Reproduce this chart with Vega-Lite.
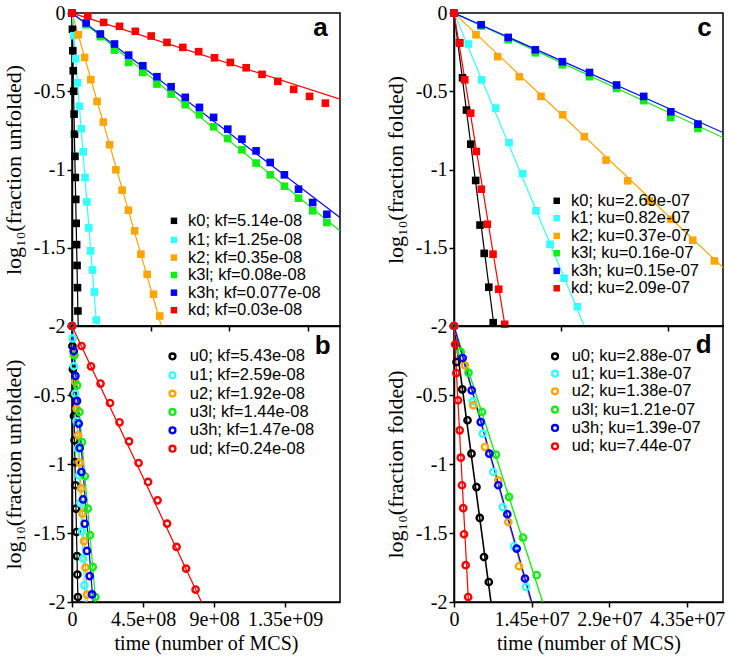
{
 "$schema": "https://vega.github.io/schema/vega-lite/v6.json",
 "background": "white",
 "padding": {"left": 1, "top": 2, "right": 4, "bottom": 4},
 "config": {
  "view": {"stroke": "black", "strokeWidth": 1.5},
  "axis": {"domainColor": "black", "domainWidth": 1.5, "tickColor": "black", "tickWidth": 1.5, "tickSize": 5, "labelFont": "Liberation Serif", "labelFontSize": 20, "labelColor": "black", "titleFont": "Liberation Serif", "titleFontSize": 20, "titleFontWeight": "normal", "titleColor": "black", "grid": false, "labelPadding": 2, "labelOverlap": false, "labelFlush": false}
 },
 "datasets": {
  "aP": [
   {"s":"k0","x":0,"y":0},{"s":"k0","x":2.41e6,"y":-0.104},{"s":"k0","x":4.82e6,"y":-0.241},{"s":"k0","x":7.23e6,"y":-0.369},{"s":"k0","x":9.64e6,"y":-0.5},{"s":"k0","x":1.205e7,"y":-0.646},{"s":"k0","x":1.446e7,"y":-0.774},{"s":"k0","x":1.687e7,"y":-0.916},{"s":"k0","x":1.928e7,"y":-1.051},{"s":"k0","x":2.169e7,"y":-1.191},{"s":"k0","x":2.41e7,"y":-1.344},{"s":"k0","x":2.651e7,"y":-1.48},{"s":"k0","x":2.892e7,"y":-1.613},{"s":"k0","x":3.133e7,"y":-1.755},{"s":"k0","x":3.374e7,"y":-1.904},
   {"s":"k1","x":0,"y":0},{"s":"k1","x":1.065e7,"y":-0.145},{"s":"k1","x":2.13e7,"y":-0.292},{"s":"k1","x":3.195e7,"y":-0.446},{"s":"k1","x":4.26e7,"y":-0.596},{"s":"k1","x":5.325e7,"y":-0.74},{"s":"k1","x":6.39e7,"y":-0.887},{"s":"k1","x":7.455e7,"y":-1.051},{"s":"k1","x":8.52e7,"y":-1.207},{"s":"k1","x":9.585e7,"y":-1.373},{"s":"k1","x":1.065e8,"y":-1.52},{"s":"k1","x":1.1715e8,"y":-1.642},{"s":"k1","x":1.278e8,"y":-1.783},{"s":"k1","x":1.3845e8,"y":-1.962},
   {"s":"k2","x":0,"y":0},{"s":"k2","x":3.589e7,"y":-0.139},{"s":"k2","x":7.178e7,"y":-0.284},{"s":"k2","x":1.0767e8,"y":-0.426},{"s":"k2","x":1.4356e8,"y":-0.565},{"s":"k2","x":1.7945e8,"y":-0.697},{"s":"k2","x":2.1534e8,"y":-0.842},{"s":"k2","x":2.5123e8,"y":-1.002},{"s":"k2","x":2.8712e8,"y":-1.132},{"s":"k2","x":3.2301e8,"y":-1.26},{"s":"k2","x":3.589e8,"y":-1.392},{"s":"k2","x":3.9479e8,"y":-1.541},{"s":"k2","x":4.3068e8,"y":-1.67},{"s":"k2","x":4.6657e8,"y":-1.797},{"s":"k2","x":5.0246e8,"y":-1.936},
   {"s":"k3l","x":0,"y":0},{"s":"k3l","x":8.11e7,"y":-0.075},{"s":"k3l","x":1.622e8,"y":-0.151},{"s":"k3l","x":2.433e8,"y":-0.237},{"s":"k3l","x":3.244e8,"y":-0.316},{"s":"k3l","x":4.055e8,"y":-0.38},{"s":"k3l","x":4.866e8,"y":-0.454},{"s":"k3l","x":5.677e8,"y":-0.518},{"s":"k3l","x":6.488e8,"y":-0.586},{"s":"k3l","x":7.299e8,"y":-0.65},{"s":"k3l","x":8.11e8,"y":-0.727},{"s":"k3l","x":8.921e8,"y":-0.802},{"s":"k3l","x":9.732e8,"y":-0.874},{"s":"k3l","x":1.0543e9,"y":-0.959},{"s":"k3l","x":1.1354e9,"y":-1.034},{"s":"k3l","x":1.2165e9,"y":-1.107},{"s":"k3l","x":1.2976e9,"y":-1.183},{"s":"k3l","x":1.3787e9,"y":-1.264},{"s":"k3l","x":1.4598e9,"y":-1.339},
   {"s":"k3h","x":0,"y":0},{"s":"k3h","x":8.11e7,"y":-0.064},{"s":"k3h","x":1.622e8,"y":-0.134},{"s":"k3h","x":2.433e8,"y":-0.198},{"s":"k3h","x":3.244e8,"y":-0.269},{"s":"k3h","x":4.055e8,"y":-0.337},{"s":"k3h","x":4.866e8,"y":-0.407},{"s":"k3h","x":5.677e8,"y":-0.471},{"s":"k3h","x":6.488e8,"y":-0.539},{"s":"k3h","x":7.299e8,"y":-0.603},{"s":"k3h","x":8.11e8,"y":-0.667},{"s":"k3h","x":8.921e8,"y":-0.742},{"s":"k3h","x":9.732e8,"y":-0.806},{"s":"k3h","x":1.0543e9,"y":-0.881},{"s":"k3h","x":1.1354e9,"y":-0.955},{"s":"k3h","x":1.2165e9,"y":-1.034},{"s":"k3h","x":1.2976e9,"y":-1.126},{"s":"k3h","x":1.3787e9,"y":-1.211},{"s":"k3h","x":1.4598e9,"y":-1.286},
   {"s":"kd","x":0,"y":0},{"s":"kd","x":9.07e7,"y":-0.021},{"s":"kd","x":1.814e8,"y":-0.06},{"s":"kd","x":2.721e8,"y":-0.085},{"s":"kd","x":3.628e8,"y":-0.117},{"s":"kd","x":4.535e8,"y":-0.147},{"s":"kd","x":5.442e8,"y":-0.188},{"s":"kd","x":6.349e8,"y":-0.22},{"s":"kd","x":7.256e8,"y":-0.247},{"s":"kd","x":8.163e8,"y":-0.286},{"s":"kd","x":9.07e8,"y":-0.316},{"s":"kd","x":9.977e8,"y":-0.35},{"s":"kd","x":1.0884e9,"y":-0.392},{"s":"kd","x":1.1791e9,"y":-0.437},{"s":"kd","x":1.2698e9,"y":-0.488},{"s":"kd","x":1.3605e9,"y":-0.533},{"s":"kd","x":1.4512e9,"y":-0.576}
  ],
  "aL": [
   {"g":"k0","x":0,"y":0},{"g":"k0","x":3.55e7,"y":-2},
   {"g":"k1","x":0,"y":0},{"g":"k1","x":1.415e8,"y":-2},
   {"g":"k2","x":0,"y":0},{"g":"k2","x":5.116e8,"y":-2},
   {"g":"k3l","x":0,"y":0},{"g":"k3l","x":1.535e9,"y":-1.392},
   {"g":"k3h","x":0,"y":0},{"g":"k3h","x":1.535e9,"y":-1.307},
   {"g":"kd","x":0,"y":0},{"g":"kd","x":1.535e9,"y":-0.55}
  ],
  "aT": [{"t":"a","x":1.465e9,"y":-0.145}],
  "aK": [
   {"s":"k0","lab":"k0; kf=5.14e-08","x":5.84e8,"tx":6.645e8,"y":-1.328},
   {"s":"k1","lab":"k1; kf=1.25e-08","x":5.84e8,"tx":6.645e8,"y":-1.45},
   {"s":"k2","lab":"k2; kf=0.35e-08","x":5.84e8,"tx":6.645e8,"y":-1.563},
   {"s":"k3l","lab":"k3l; kf=0.08e-08","x":5.84e8,"tx":6.645e8,"y":-1.674},
   {"s":"k3h","lab":"k3h; kf=0.077e-08","x":5.84e8,"tx":6.645e8,"y":-1.787},
   {"s":"kd","lab":"kd; kf=0.03e-08","x":5.84e8,"tx":6.645e8,"y":-1.899}
  ],
  "bP": [
   {"s":"u0","x":0,"y":0},{"s":"u0","x":2.5e6,"y":-0.145},{"s":"u0","x":5.7e6,"y":-0.314},{"s":"u0","x":9.5e6,"y":-0.495},{"s":"u0","x":1.27e7,"y":-0.652},{"s":"u0","x":1.58e7,"y":-0.828},{"s":"u0","x":1.9e7,"y":-0.986},{"s":"u0","x":2.22e7,"y":-1.154},{"s":"u0","x":2.54e7,"y":-1.323},{"s":"u0","x":2.85e7,"y":-1.493},{"s":"u0","x":3.17e7,"y":-1.667},{"s":"u0","x":3.42e7,"y":-1.801},{"s":"u0","x":3.74e7,"y":-1.964},
   {"s":"u1","x":0,"y":0},{"s":"u1","x":3.8e6,"y":-0.09},{"s":"u1","x":1.21e7,"y":-0.29},{"s":"u1","x":2.05e7,"y":-0.49},{"s":"u1","x":2.88e7,"y":-0.689},{"s":"u1","x":3.71e7,"y":-0.888},{"s":"u1","x":4.53e7,"y":-1.082},{"s":"u1","x":5.37e7,"y":-1.283},{"s":"u1","x":6.22e7,"y":-1.486},{"s":"u1","x":7.05e7,"y":-1.686},{"s":"u1","x":7.86e7,"y":-1.879},
   {"s":"u2","x":0,"y":0},{"s":"u2","x":1.01e7,"y":-0.207},{"s":"u2","x":1.97e7,"y":-0.403},{"s":"u2","x":2.92e7,"y":-0.599},{"s":"u2","x":3.87e7,"y":-0.792},{"s":"u2","x":4.83e7,"y":-0.99},{"s":"u2","x":5.74e7,"y":-1.177},{"s":"u2","x":6.64e7,"y":-1.36},{"s":"u2","x":7.61e7,"y":-1.56},{"s":"u2","x":8.54e7,"y":-1.75},{"s":"u2","x":9.5e7,"y":-1.946},
   {"s":"u3l","x":0,"y":0},{"s":"u3l","x":1.58e7,"y":-0.212},{"s":"u3l","x":3.23e7,"y":-0.43},{"s":"u3l","x":4.69e7,"y":-0.623},{"s":"u3l","x":6.34e7,"y":-0.841},{"s":"u3l","x":8.18e7,"y":-1.089},{"s":"u3l","x":9.95e7,"y":-1.323},{"s":"u3l","x":1.141e8,"y":-1.516},{"s":"u3l","x":1.312e8,"y":-1.746},{"s":"u3l","x":1.477e8,"y":-1.964},
   {"s":"u3h","x":0,"y":0},{"s":"u3h","x":1.08e7,"y":-0.181},{"s":"u3h","x":2.15e7,"y":-0.362},{"s":"u3h","x":3.17e7,"y":-0.543},{"s":"u3h","x":4.25e7,"y":-0.707},{"s":"u3h","x":4.88e7,"y":-0.884},{"s":"u3h","x":5.96e7,"y":-1.058},{"s":"u3h","x":6.97e7,"y":-1.257},{"s":"u3h","x":8.05e7,"y":-1.433},{"s":"u3h","x":9.51e7,"y":-1.63},{"s":"u3h","x":1.122e8,"y":-1.812},{"s":"u3h","x":1.268e8,"y":-1.945},
   {"s":"ud","x":0,"y":0},{"s":"ud","x":6.02e7,"y":-0.145},{"s":"ud","x":1.204e8,"y":-0.292},{"s":"ud","x":1.806e8,"y":-0.417},{"s":"ud","x":2.408e8,"y":-0.558},{"s":"ud","x":3.01e8,"y":-0.698},{"s":"ud","x":3.612e8,"y":-0.836},{"s":"ud","x":4.214e8,"y":-0.993},{"s":"ud","x":4.816e8,"y":-1.13},{"s":"ud","x":5.418e8,"y":-1.263},{"s":"ud","x":6.02e8,"y":-1.432},{"s":"ud","x":6.622e8,"y":-1.601},{"s":"ud","x":7.224e8,"y":-1.758},{"s":"ud","x":7.826e8,"y":-1.91}
  ],
  "bL": [
   {"g":"u0","x":0,"y":0},{"g":"u0","x":3.8e7,"y":-2},
   {"g":"u1","x":0,"y":0},{"g":"u1","x":8.37e7,"y":-2},
   {"g":"u2","x":0,"y":0},{"g":"u2","x":9.76e7,"y":-2},
   {"g":"u3l","x":0,"y":0},{"g":"u3l","x":1.502e8,"y":-2},
   {"g":"u3h","x":0,"y":0},{"g":"u3h","x":1.33e8,"y":-2},
   {"g":"ud","x":0,"y":0},{"g":"ud","x":8.2e8,"y":-2}
  ],
  "bT": [{"t":"b","x":1.638e9,"y":-0.2}],
  "bK": [
   {"s":"u0","lab":"u0; kf=5.43e-08","x":6.363e8,"tx":7.46e8,"y":-0.22},
   {"s":"u1","lab":"u1; kf=2.59e-08","x":6.363e8,"tx":7.46e8,"y":-0.357},
   {"s":"u2","lab":"u2; kf=1.92e-08","x":6.363e8,"tx":7.46e8,"y":-0.49},
   {"s":"u3l","lab":"u3l; kf=1.44e-08","x":6.363e8,"tx":7.46e8,"y":-0.623},
   {"s":"u3h","lab":"u3h; kf=1.47e-08","x":6.363e8,"tx":7.46e8,"y":-0.756},
   {"s":"ud","lab":"ud; kf=0.24e-08","x":6.363e8,"tx":7.46e8,"y":-0.889}
  ],
  "cP": [
   {"s":"k0","x":0,"y":0},{"s":"k0","x":7.44e5,"y":-0.19},{"s":"k0","x":1.15e6,"y":-0.414},{"s":"k0","x":1.69e6,"y":-0.62},{"s":"k0","x":2.27e6,"y":-0.838},{"s":"k0","x":2.935e6,"y":-1.07},{"s":"k0","x":3.517e6,"y":-1.355},{"s":"k0","x":4.085e6,"y":-1.536},{"s":"k0","x":4.707e6,"y":-1.752},{"s":"k0","x":5.302e6,"y":-1.979},
   {"s":"k1","x":0,"y":0},{"s":"k1","x":1.934e6,"y":-0.198},{"s":"k1","x":3.747e6,"y":-0.427},{"s":"k1","x":5.64e6,"y":-0.608},{"s":"k1","x":7.44e6,"y":-0.828},{"s":"k1","x":9.29e6,"y":-1.026},{"s":"k1","x":1.109e7,"y":-1.264},{"s":"k1","x":1.2985e7,"y":-1.478},{"s":"k1","x":1.488e7,"y":-1.695},{"s":"k1","x":1.668e7,"y":-1.877},
   {"s":"k2","x":0,"y":0},{"s":"k2","x":2.976e6,"y":-0.139},{"s":"k2","x":5.911e6,"y":-0.279},{"s":"k2","x":8.833e6,"y":-0.407},{"s":"k2","x":1.1768e7,"y":-0.533},{"s":"k2","x":1.4703e7,"y":-0.65},{"s":"k2","x":1.7624e7,"y":-0.79},{"s":"k2","x":2.056e7,"y":-0.94},{"s":"k2","x":2.3495e7,"y":-1.072},{"s":"k2","x":2.6416e7,"y":-1.201},{"s":"k2","x":2.9351e7,"y":-1.318},{"s":"k2","x":3.2287e7,"y":-1.452},{"s":"k2","x":3.5208e7,"y":-1.584},
   {"s":"k3l","x":0,"y":0},{"s":"k3l","x":3.665e6,"y":-0.083},{"s":"k3l","x":7.33e6,"y":-0.171},{"s":"k3l","x":1.0995e7,"y":-0.254},{"s":"k3l","x":1.466e7,"y":-0.331},{"s":"k3l","x":1.8325e7,"y":-0.407},{"s":"k3l","x":2.199e7,"y":-0.482},{"s":"k3l","x":2.5655e7,"y":-0.56},{"s":"k3l","x":2.932e7,"y":-0.668},{"s":"k3l","x":3.2985e7,"y":-0.738},
   {"s":"k3h","x":0,"y":0},{"s":"k3h","x":3.665e6,"y":-0.075},{"s":"k3h","x":7.33e6,"y":-0.156},{"s":"k3h","x":1.0995e7,"y":-0.235},{"s":"k3h","x":1.466e7,"y":-0.311},{"s":"k3h","x":1.8325e7,"y":-0.38},{"s":"k3h","x":2.199e7,"y":-0.46},{"s":"k3h","x":2.5655e7,"y":-0.533},{"s":"k3h","x":2.932e7,"y":-0.631},{"s":"k3h","x":3.2985e7,"y":-0.71},
   {"s":"kd","x":0,"y":0},{"s":"kd","x":7.71e5,"y":-0.192},{"s":"kd","x":1.447e6,"y":-0.427},{"s":"kd","x":2.259e6,"y":-0.64},{"s":"kd","x":3.016e6,"y":-0.885},{"s":"kd","x":3.693e6,"y":-1.126},{"s":"kd","x":4.504e6,"y":-1.35},{"s":"kd","x":5.275e6,"y":-1.541},{"s":"kd","x":6.046e6,"y":-1.765},{"s":"kd","x":6.858e6,"y":-1.989}
  ],
  "cL": [
   {"g":"k0","x":0,"y":0},{"g":"k0","x":5.41e6,"y":-2},
   {"g":"k1","x":0,"y":0},{"g":"k1","x":1.762e7,"y":-2},
   {"g":"k2","x":0,"y":0},{"g":"k2","x":3.638e7,"y":-1.627},
   {"g":"k3l","x":0,"y":0},{"g":"k3l","x":3.638e7,"y":-0.796},
   {"g":"k3h","x":0,"y":0},{"g":"k3h","x":3.638e7,"y":-0.764},
   {"g":"kd","x":0,"y":0},{"g":"kd","x":6.9e6,"y":-2}
  ],
  "cT": [{"t":"c","x":3.486e7,"y":-0.145}],
  "cK": [
   {"s":"k0","lab":"k0; ku=2.69e-07","x":1.389e7,"tx":1.5825e7,"y":-1.2},
   {"s":"k1","lab":"k1; ku=0.82e-07","x":1.389e7,"tx":1.5825e7,"y":-1.311},
   {"s":"k2","lab":"k2; ku=0.37e-07","x":1.389e7,"tx":1.5825e7,"y":-1.424},
   {"s":"k3l","lab":"k3l; ku=0.16e-07","x":1.389e7,"tx":1.5825e7,"y":-1.535},
   {"s":"k3h","lab":"k3h; ku=0.15e-07","x":1.389e7,"tx":1.5825e7,"y":-1.648},
   {"s":"kd","lab":"kd; ku=2.09e-07","x":1.389e7,"tx":1.5825e7,"y":-1.759}
  ],
  "dP": [
   {"s":"u0","x":0,"y":0},{"s":"u0","x":4.67e5,"y":-0.261},{"s":"u0","x":1.549e6,"y":-0.459},{"s":"u0","x":2.519e6,"y":-0.683},{"s":"u0","x":3.266e6,"y":-0.925},{"s":"u0","x":4.199e6,"y":-1.167},{"s":"u0","x":4.814e6,"y":-1.391},{"s":"u0","x":5.598e6,"y":-1.674},{"s":"u0","x":6.494e6,"y":-1.855},
   {"s":"u1","x":0,"y":0},{"s":"u1","x":3.49e6,"y":-0.546},{"s":"u1","x":5.355e6,"y":-0.78},{"s":"u1","x":7.333e6,"y":-1.058},{"s":"u1","x":9.087e6,"y":-1.312},{"s":"u1","x":1.1196e7,"y":-1.596},{"s":"u1","x":1.3435e7,"y":-1.891},
   {"s":"u2","x":0,"y":0},{"s":"u2","x":2.053e6,"y":-0.285},{"s":"u2","x":3.601e6,"y":-0.574},{"s":"u2","x":5.785e6,"y":-0.877},{"s":"u2","x":8.266e6,"y":-1.118},{"s":"u2","x":1.0132e7,"y":-1.42},{"s":"u2","x":1.2129e7,"y":-1.741},
   {"s":"u3l","x":0,"y":0},{"s":"u3l","x":1.25e6,"y":-0.188},{"s":"u3l","x":2.706e6,"y":-0.338},{"s":"u3l","x":5.225e6,"y":-0.623},{"s":"u3l","x":7.837e6,"y":-0.932},{"s":"u3l","x":1.0263e7,"y":-1.239},{"s":"u3l","x":1.2875e7,"y":-1.533},{"s":"u3l","x":1.5432e7,"y":-1.806},
   {"s":"u3h","x":0,"y":0},{"s":"u3h","x":1.623e6,"y":-0.232},{"s":"u3h","x":3.303e6,"y":-0.466},{"s":"u3h","x":4.982e6,"y":-0.696},{"s":"u3h","x":6.587e6,"y":-0.925},{"s":"u3h","x":8.266e6,"y":-1.154},{"s":"u3h","x":9.946e6,"y":-1.364},{"s":"u3h","x":1.17e7,"y":-1.613},{"s":"u3h","x":1.3249e7,"y":-1.83},
   {"s":"ud","x":0,"y":0},{"s":"ud","x":2.2e5,"y":-0.133},{"s":"ud","x":4.3e5,"y":-0.341},{"s":"ud","x":7.5e5,"y":-0.538},{"s":"ud","x":1.06e6,"y":-0.756},{"s":"ud","x":1.27e6,"y":-0.954},{"s":"ud","x":1.49e6,"y":-1.154},{"s":"ud","x":1.72e6,"y":-1.32},{"s":"ud","x":1.87e6,"y":-1.509},{"s":"ud","x":2.18e6,"y":-1.733},{"s":"ud","x":2.65e6,"y":-1.964}
  ],
  "dL": [
   {"g":"u0","x":0,"y":0},{"g":"u0","x":6.9e6,"y":-2},
   {"g":"u1","x":0,"y":0},{"g":"u1","x":1.437e7,"y":-2},
   {"g":"u2","x":0,"y":0},{"g":"u2","x":1.437e7,"y":-2},
   {"g":"u3l","x":0,"y":0},{"g":"u3l","x":1.655e7,"y":-2},
   {"g":"u3h","x":0,"y":0},{"g":"u3h","x":1.45e7,"y":-2},
   {"g":"ud","x":0,"y":0},{"g":"ud","x":2.7e6,"y":-2}
  ],
  "dT": [{"t":"d","x":4.809e7,"y":-0.193}],
  "dK": [
   {"s":"u0","lab":"u0; ku=2.88e-07","x":1.885e7,"tx":2.196e7,"y":-0.22},
   {"s":"u1","lab":"u1; ku=1.38e-07","x":1.885e7,"tx":2.196e7,"y":-0.345},
   {"s":"u2","lab":"u2; ku=1.38e-07","x":1.885e7,"tx":2.196e7,"y":-0.473},
   {"s":"u3l","lab":"u3l; ku=1.21e-07","x":1.885e7,"tx":2.196e7,"y":-0.606},
   {"s":"u3h","lab":"u3h; ku=1.39e-07","x":1.885e7,"tx":2.196e7,"y":-0.739},
   {"s":"ud","lab":"ud; ku=7.44e-07","x":1.885e7,"tx":2.196e7,"y":-0.872}
  ]
 },
 "columns": 2,
 "spacing": {"row": 0, "column": 114},
 "bounds": "flush",
 "align": "each",
 "resolve": {"scale": {"color": "independent", "stroke": "independent", "strokeWidth": "independent"}},
 "concat": [
  {
   "width": 268, "height": 313,
   "encoding": {
    "x": {"field": "x", "type": "quantitative", "scale": {"domain": [0, 1.535e9], "nice": false, "zero": false}, "axis": {"values": [0, 450000000, 900000000, 1350000000], "labels": false, "title": null}},
    "y": {"field": "y", "type": "quantitative", "scale": {"domain": [-2, 0], "nice": false}, "axis": {"values": [0, -0.5, -1, -1.5, -2], "labelExpr": "datum.value == 0 ? '0' : '-' + format(-datum.value, '~g')", "title": "log₁₀(fraction unfolded)", "titleFontSize": 22, "titlePadding": 8}}
   },
   "layer": [
    {"data": {"name": "aL"}, "mark": {"type": "line", "clip": true},
     "encoding": {"stroke": {"field": "g", "type": "nominal", "scale": {"domain": ["k0","k1","k2","k3l","k3h","kd"], "range": ["#000000","#33FFFF","#FFA500","#11EE11","#0000FF","#FF0000"]}, "legend": null},
      "strokeWidth": {"field": "g", "type": "nominal", "scale": {"domain": ["k0","k1","k2","k3l","k3h","kd"], "range": [1.2,1.2,2,2,1.3,1.2]}, "legend": null}}},
    {"data": {"name": "aP"}, "mark": {"type": "point", "shape": "square", "filled": true, "size": 58, "opacity": 1},
     "encoding": {"color": {"field": "s", "type": "nominal", "scale": {"domain": ["k0","k1","k2","k3l","k3h","kd"], "range": ["#000000","#33FFFF","#FFA500","#11EE11","#0000FF","#FF0000"]}, "legend": null}}},
    {"data": {"name": "aK"}, "mark": {"type": "point", "shape": "square", "filled": true, "size": 42, "opacity": 1},
     "encoding": {"color": {"field": "s", "type": "nominal", "legend": null}}},
    {"data": {"name": "aK"}, "mark": {"type": "text", "font": "Liberation Sans", "fontSize": 16.5, "align": "left", "baseline": "middle", "color": "black"},
     "encoding": {"x": {"field": "tx", "type": "quantitative"}, "text": {"field": "lab"}}},
    {"data": {"name": "aT"}, "mark": {"type": "text", "font": "Liberation Sans", "fontWeight": "bold", "fontSize": 26, "align": "right", "baseline": "alphabetic", "color": "black"},
     "encoding": {"text": {"field": "t"}}}
   ]
  },
  {
   "width": 269, "height": 313,
   "encoding": {
    "x": {"field": "x", "type": "quantitative", "scale": {"domain": [0, 3.638e7], "nice": false, "zero": false}, "axis": {"values": [0, 14500000, 29000000], "labels": false, "title": null}},
    "y": {"field": "y", "type": "quantitative", "scale": {"domain": [-2, 0], "nice": false}, "axis": {"values": [0, -0.5, -1, -1.5, -2], "labelExpr": "datum.value == 0 ? '0' : '-' + format(-datum.value, '~g')", "title": "log₁₀(fraction folded)", "titleFontSize": 22, "titlePadding": 8}}
   },
   "layer": [
    {"data": {"name": "cL"}, "mark": {"type": "line", "clip": true},
     "encoding": {"stroke": {"field": "g", "type": "nominal", "scale": {"domain": ["k0","k1","k2","k3l","k3h","kd"], "range": ["#000000","#33FFFF","#FFA500","#11EE11","#0000FF","#FF0000"]}, "legend": null},
      "strokeWidth": {"field": "g", "type": "nominal", "scale": {"domain": ["k0","k1","k2","k3l","k3h","kd"], "range": [1.2,1.2,2,2.2,1.2,1.2]}, "legend": null}}},
    {"data": {"name": "cP"}, "mark": {"type": "point", "shape": "square", "filled": true, "size": 58, "opacity": 1},
     "encoding": {"color": {"field": "s", "type": "nominal", "scale": {"domain": ["k0","k1","k2","k3l","k3h","kd"], "range": ["#000000","#33FFFF","#FFA500","#11EE11","#0000FF","#FF0000"]}, "legend": null}}},
    {"data": {"name": "cK"}, "mark": {"type": "point", "shape": "square", "filled": true, "size": 42, "opacity": 1},
     "encoding": {"color": {"field": "s", "type": "nominal", "legend": null}}},
    {"data": {"name": "cK"}, "mark": {"type": "text", "font": "Liberation Sans", "fontSize": 16.5, "align": "left", "baseline": "middle", "color": "black"},
     "encoding": {"x": {"field": "tx", "type": "quantitative"}, "text": {"field": "lab"}}},
    {"data": {"name": "cT"}, "mark": {"type": "text", "font": "Liberation Sans", "fontWeight": "bold", "fontSize": 26, "align": "right", "baseline": "alphabetic", "color": "black"},
     "encoding": {"text": {"field": "t"}}}
   ]
  },
  {
   "width": 268, "height": 276,
   "encoding": {
    "x": {"field": "x", "type": "quantitative", "scale": {"domain": [0, 1.697e9], "nice": false, "zero": false}, "axis": {"values": [0, 450000000, 900000000, 1350000000], "labelExpr": "datum.value == 0 ? '0' : datum.value == 450000000 ? '4.5e+08' : datum.value == 900000000 ? '9e+08' : '1.35e+09'", "title": "time (number of MCS)", "titlePadding": 4}},
    "y": {"field": "y", "type": "quantitative", "scale": {"domain": [-2, 0], "nice": false}, "axis": {"values": [0, -0.5, -1, -1.5, -2], "labelExpr": "datum.value == 0 ? '' : '-' + format(-datum.value, '~g')", "title": "log₁₀(fraction unfolded)", "titleFontSize": 22, "titlePadding": 8}}
   },
   "layer": [
    {"data": {"name": "bL"}, "mark": {"type": "line", "clip": true},
     "encoding": {"stroke": {"field": "g", "type": "nominal", "scale": {"domain": ["u0","u1","u2","u3l","u3h","ud"], "range": ["#000000","#33FFFF","#FFA500","#11EE11","#0000FF","#FF0000"]}, "legend": null},
      "strokeWidth": {"field": "g", "type": "nominal", "scale": {"domain": ["u0","u1","u2","u3l","u3h","ud"], "range": [1.2,1.2,1.2,1.2,1.6,1.2]}, "legend": null}}},
    {"data": {"name": "bP"}, "mark": {"type": "point", "shape": "circle", "filled": false, "size": 40, "strokeWidth": 2.4, "opacity": 1},
     "encoding": {"color": {"field": "s", "type": "nominal", "scale": {"domain": ["u0","u1","u2","u3l","u3h","ud"], "range": ["#000000","#33FFFF","#FFA500","#11EE11","#0000FF","#FF0000"]}, "legend": null}}},
    {"data": {"name": "bK"}, "mark": {"type": "point", "shape": "circle", "filled": false, "size": 34, "strokeWidth": 2.4, "opacity": 1},
     "encoding": {"color": {"field": "s", "type": "nominal", "legend": null}}},
    {"data": {"name": "bK"}, "mark": {"type": "text", "font": "Liberation Sans", "fontSize": 16.5, "align": "left", "baseline": "middle", "color": "black"},
     "encoding": {"x": {"field": "tx", "type": "quantitative"}, "text": {"field": "lab"}}},
    {"data": {"name": "bT"}, "mark": {"type": "text", "font": "Liberation Sans", "fontWeight": "bold", "fontSize": 26, "align": "right", "baseline": "alphabetic", "color": "black"},
     "encoding": {"text": {"field": "t"}}}
   ]
  },
  {
   "width": 269, "height": 276,
   "encoding": {
    "x": {"field": "x", "type": "quantitative", "scale": {"domain": [0, 5.02e7], "nice": false, "zero": false}, "axis": {"values": [0, 14500000, 29000000, 43500000], "labelExpr": "datum.value == 0 ? '0' : datum.value == 14500000 ? '1.45e+07' : datum.value == 29000000 ? '2.9e+07' : '4.35e+07'", "title": "time (number of MCS)", "titlePadding": 4}},
    "y": {"field": "y", "type": "quantitative", "scale": {"domain": [-2, 0], "nice": false}, "axis": {"values": [0, -0.5, -1, -1.5, -2], "labelExpr": "datum.value == 0 ? '' : '-' + format(-datum.value, '~g')", "title": "log₁₀(fraction folded)", "titleFontSize": 22, "titlePadding": 8}}
   },
   "layer": [
    {"data": {"name": "dL"}, "mark": {"type": "line", "clip": true},
     "encoding": {"stroke": {"field": "g", "type": "nominal", "scale": {"domain": ["u0","u1","u2","u3l","u3h","ud"], "range": ["#000000","#33FFFF","#FFA500","#11EE11","#0000FF","#FF0000"]}, "legend": null},
      "strokeWidth": {"field": "g", "type": "nominal", "scale": {"domain": ["u0","u1","u2","u3l","u3h","ud"], "range": [1.6,1.2,1.2,2,2,1.2]}, "legend": null}}},
    {"data": {"name": "dP"}, "mark": {"type": "point", "shape": "circle", "filled": false, "size": 40, "strokeWidth": 2.4, "opacity": 1},
     "encoding": {"color": {"field": "s", "type": "nominal", "scale": {"domain": ["u0","u1","u2","u3l","u3h","ud"], "range": ["#000000","#33FFFF","#FFA500","#11EE11","#0000FF","#FF0000"]}, "legend": null}}},
    {"data": {"name": "dK"}, "mark": {"type": "point", "shape": "circle", "filled": false, "size": 34, "strokeWidth": 2.4, "opacity": 1},
     "encoding": {"color": {"field": "s", "type": "nominal", "legend": null}}},
    {"data": {"name": "dK"}, "mark": {"type": "text", "font": "Liberation Sans", "fontSize": 16.5, "align": "left", "baseline": "middle", "color": "black"},
     "encoding": {"x": {"field": "tx", "type": "quantitative"}, "text": {"field": "lab"}}},
    {"data": {"name": "dT"}, "mark": {"type": "text", "font": "Liberation Sans", "fontWeight": "bold", "fontSize": 26, "align": "right", "baseline": "alphabetic", "color": "black"},
     "encoding": {"text": {"field": "t"}}}
   ]
  }
 ]
}
